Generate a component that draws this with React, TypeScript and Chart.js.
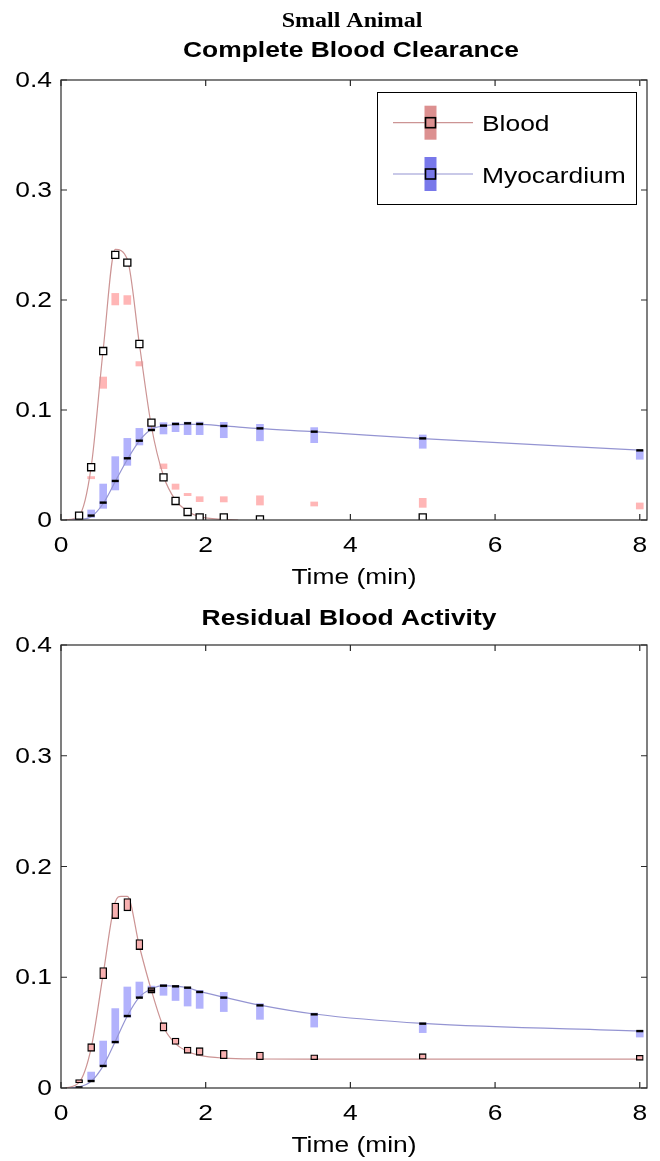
import React, { useEffect, useRef } from 'react';
import { Chart, registerables } from 'chart.js';

Chart.register(...registerables);

// ---------- data ----------
const times = [0.25, 0.4167, 0.5833, 0.75, 0.9167, 1.0833, 1.25, 1.4167, 1.5833, 1.75, 1.9167, 2.25, 2.75, 3.5, 5, 8];

const seriesNames = ['Blood', 'Myocardium'];

// Top panel: Complete Blood Clearance
const topBloodMean = [0.004, 0.048, 0.1536, 0.241, 0.234, 0.16, 0.0885, 0.0388, 0.0173, 0.0073, 0.0024, 0.0024, 0.0005, -0.004, 0.0024, -0.004];
const topBloodLow = [null, 0.0375, 0.1197, 0.1955, 0.196, 0.14, 0.085, 0.0467, 0.0279, 0.0221, 0.0167, 0.0164, 0.0136, 0.0127, 0.0115, 0.010];
const topBloodHigh = [null, 0.0395, 0.13, 0.206, 0.204, 0.144, 0.091, 0.051, 0.0327, 0.0242, 0.0212, 0.0212, 0.022, 0.0164, 0.0197, 0.0155];
const topMyoMean = [0.0005, 0.004, 0.0158, 0.0355, 0.0561, 0.0721, 0.0818, 0.0858, 0.0873, 0.0879, 0.0873, 0.0855, 0.0833, 0.0803, 0.0742, 0.0633];
const topMyoLow = [null, 0.0024, 0.0106, 0.0273, 0.0497, 0.0682, 0.0818, 0.0782, 0.0803, 0.0776, 0.0776, 0.0748, 0.072, 0.0703, 0.0652, 0.0552];
const topMyoHigh = [null, 0.0091, 0.0327, 0.0576, 0.0742, 0.0833, 0.087, 0.0885, 0.0885, 0.089, 0.089, 0.0888, 0.087, 0.084, 0.0773, 0.0636];
const topBloodFitT = [0.06, 0.25, 0.4167, 0.5833, 0.75, 0.9167, 1.0833, 1.25, 1.4167, 1.5833, 1.75, 1.9167, 2.25, 2.45];
const topBloodFitV = [0, 0.004, 0.048, 0.155, 0.246, 0.237, 0.16, 0.085, 0.04, 0.018, 0.008, 0.003, 0.0005, 0];
const topMyoFitT = [0.08, 0.25, 0.4167, 0.5833, 0.75, 0.9167, 1.0833, 1.25, 1.4167, 1.5833, 1.75, 1.9167, 2.25, 2.75, 3.5, 5, 8];
const topMyoFitV = [0, 0.0005, 0.003, 0.015, 0.035, 0.055, 0.072, 0.0824, 0.0856, 0.0867, 0.087, 0.087, 0.0855, 0.083, 0.0803, 0.0739, 0.0636];

// Bottom panel: Residual Blood Activity
const botBloodLow = [0.0045, 0.0331, 0.0987, 0.153, 0.16, 0.125, 0.0857, 0.0514, 0.0394, 0.0313, 0.0295, 0.0265, 0.0256, 0.0256, 0.026, 0.025];
const botBloodHigh = [0.0076, 0.04, 0.1087, 0.167, 0.171, 0.134, 0.0906, 0.059, 0.0451, 0.037, 0.0364, 0.034, 0.0325, 0.03, 0.031, 0.0295];
const botMyoMean = [0.0005, 0.0063, 0.0199, 0.0415, 0.065, 0.0816, 0.088, 0.0924, 0.0918, 0.0906, 0.0867, 0.0816, 0.0746, 0.0665, 0.0581, 0.0514];
const botMyoLow = [null, 0.007, 0.0205, 0.0406, 0.064, 0.0821, 0.086, 0.0837, 0.079, 0.074, 0.0719, 0.069, 0.062, 0.055, 0.05, 0.046];
const botMyoHigh = [null, 0.0144, 0.0424, 0.0717, 0.0912, 0.0957, 0.092, 0.0933, 0.0927, 0.0906, 0.0882, 0.0864, 0.0762, 0.0677, 0.0587, 0.052];
const botBloodFitT = [0.06, 0.25, 0.4167, 0.5833, 0.75, 0.83, 0.9167, 1.0833, 1.25, 1.4167, 1.5833, 1.75, 1.9167, 2.25, 2.75, 3.5, 5, 8];
const botBloodFitV = [0, 0.005, 0.036, 0.103, 0.168, 0.173, 0.173, 0.128, 0.088, 0.055, 0.04, 0.033, 0.0295, 0.027, 0.0262, 0.026, 0.026, 0.026];
const botMyoFitT = [0.08, 0.25, 0.4167, 0.5833, 0.75, 0.9167, 1.0833, 1.25, 1.4167, 1.5833, 1.75, 1.9167, 2.25, 2.75, 3.5, 5, 8];
const botMyoFitV = [0, 0.001, 0.006, 0.02, 0.042, 0.065, 0.082, 0.0895, 0.0925, 0.092, 0.0905, 0.0872, 0.082, 0.0748, 0.0668, 0.0583, 0.0515];

const xTicks = [0, 2, 4, 6, 8];
const xTickLabels = ['0', '2', '4', '6', '8'];
const yTicks = [0, 0.1, 0.2, 0.3, 0.4];
const yTickLabels = ['0', '0.1', '0.2', '0.3', '0.4'];
const xTitle = 'Time (min)';

// ---------- styles ----------
const SANS = '"Liberation Sans", Arial, Helvetica, sans-serif';
const SERIF = '"Liberation Serif", "Times New Roman", serif';
const BLOOD_LINE = '#cc9494';
const MYO_LINE = '#9494d2';
const BLOOD_BAR = '#ffb6b6';
const MYO_BAR = '#b2b2fc';
const BLOOD_LEG = '#dc9090';
const MYO_LEG = '#7878ea';

function rangeData(lo: (number | null)[], hi: (number | null)[]) {
  const out: any[] = [];
  times.forEach((t, i) => {
    if (lo[i] != null && hi[i] != null) out.push({ x: t, y: [lo[i], hi[i]] });
  });
  return out;
}
function pointData(v: (number | null)[]) {
  const out: any[] = [];
  times.forEach((t, i) => {
    if (v[i] != null) out.push({ x: t, y: v[i] });
  });
  return out;
}
function curveData(ts: number[], vs: number[]) {
  return ts.map((t, i) => ({ x: t, y: vs[i] }));
}

function sText(ctx: CanvasRenderingContext2D, text: string, x: number, y: number, font: string, align: CanvasTextAlign, sx = 1.2) {
  ctx.save();
  ctx.font = font;
  ctx.textAlign = align;
  ctx.textBaseline = 'alphabetic';
  ctx.fillStyle = '#000';
  ctx.translate(x, y);
  ctx.scale(sx, 1);
  ctx.fillText(text, 0, 0);
  ctx.restore();
}

function axesPlugin(titles: { text: string; font: string; x: number; y: number }[], withLegend: boolean) {
  return {
    id: 'matlabAxes',
    afterDraw(chart: any) {
      const ctx: CanvasRenderingContext2D = chart.ctx;
      const a = chart.chartArea;
      const xs = chart.scales.x;
      const ys = chart.scales.y;
      ctx.save();
      // frame
      ctx.strokeStyle = '#2a2a2a';
      ctx.lineWidth = 1.2;
      ctx.strokeRect(a.left, a.top, a.right - a.left, a.bottom - a.top);
      const tl = 6;
      ctx.beginPath();
      xTicks.forEach((v) => {
        const px = xs.getPixelForValue(v);
        ctx.moveTo(px, a.bottom);
        ctx.lineTo(px, a.bottom - tl);
        ctx.moveTo(px, a.top);
        ctx.lineTo(px, a.top + tl);
      });
      yTicks.forEach((v) => {
        const py = ys.getPixelForValue(v);
        ctx.moveTo(a.left, py);
        ctx.lineTo(a.left + tl, py);
        ctx.moveTo(a.right, py);
        ctx.lineTo(a.right - tl, py);
      });
      ctx.stroke();
      ctx.restore();

      const tickFont = '22px ' + SANS;
      xTicks.forEach((v, i) => {
        sText(ctx, xTickLabels[i], xs.getPixelForValue(v), a.bottom + 32, tickFont, 'center');
      });
      yTicks.forEach((v, i) => {
        sText(ctx, yTickLabels[i], a.left - 9, ys.getPixelForValue(v) + 7, tickFont, 'right');
      });
      sText(ctx, xTitle, (a.left + a.right) / 2, a.bottom + 63.5, tickFont, 'center');
      titles.forEach((t) => sText(ctx, t.text, t.x, t.y, t.font, 'center'));

      if (withLegend) {
        ctx.save();
        ctx.fillStyle = '#fff';
        ctx.fillRect(377.5, 92.5, 259, 112);
        ctx.strokeStyle = '#000';
        ctx.lineWidth = 1;
        ctx.strokeRect(377.5, 92.5, 259, 112);
        const rows = [
          { y: 122.7, line: BLOOD_LINE, bar: BLOOD_LEG, name: seriesNames[0] },
          { y: 174, line: MYO_LINE, bar: MYO_LEG, name: seriesNames[1] },
        ];
        rows.forEach((r) => {
          ctx.strokeStyle = r.line;
          ctx.lineWidth = 1.2;
          ctx.beginPath();
          ctx.moveTo(393, r.y);
          ctx.lineTo(473, r.y);
          ctx.stroke();
          ctx.fillStyle = r.bar;
          ctx.fillRect(424.5, r.y - 17, 12, 34);
          ctx.strokeStyle = '#000';
          ctx.lineWidth = 1.6;
          ctx.strokeRect(425.5, r.y - 5, 10, 10);
          sText(ctx, r.name, 482, r.y + 8.6, '22px ' + SANS, 'left');
        });
        ctx.restore();
      }
    },
  };
}

function buildConfig(panel: 'top' | 'bottom'): any {
  const barCommon = { type: 'bar', barThickness: 7, grouped: false, borderWidth: 0, borderSkipped: false };
  const lineCommon = { type: 'line', pointRadius: 0, borderWidth: 1.2, fill: false, cubicInterpolationMode: 'monotone' };
  let datasets: any[];
  if (panel === 'top') {
    datasets = [
      { ...barCommon, label: 'Blood range', data: rangeData(topBloodLow, topBloodHigh), backgroundColor: BLOOD_BAR, order: 5 },
      { ...barCommon, label: 'Myocardium range', data: rangeData(topMyoLow, topMyoHigh), backgroundColor: MYO_BAR, order: 5 },
      { ...lineCommon, label: 'Blood fit', data: curveData(topBloodFitT, topBloodFitV), borderColor: BLOOD_LINE, order: 3 },
      { ...lineCommon, label: 'Myocardium fit', data: curveData(topMyoFitT, topMyoFitV), borderColor: MYO_LINE, order: 3 },
      {
        type: 'line', label: 'Myocardium', data: pointData(topMyoMean), showLine: false, pointStyle: 'line',
        pointRadius: 3.5, pointBorderWidth: 2.4, pointBorderColor: '#000', borderColor: '#000', order: 1,
      },
      {
        type: 'line', label: 'Blood', data: pointData(topBloodMean), showLine: false, pointStyle: 'rect',
        pointRadius: 5, pointBorderWidth: 1.3, pointBorderColor: '#000', pointBackgroundColor: '#fff', order: 0, clip: 0,
      },
    ];
  } else {
    datasets = [
      { ...barCommon, label: 'Myocardium range', data: rangeData(botMyoLow, botMyoHigh), backgroundColor: MYO_BAR, order: 5 },
      { ...lineCommon, label: 'Blood fit', data: curveData(botBloodFitT, botBloodFitV), borderColor: BLOOD_LINE, order: 3 },
      { ...lineCommon, label: 'Myocardium fit', data: curveData(botMyoFitT, botMyoFitV), borderColor: MYO_LINE, order: 3 },
      {
        ...barCommon, label: 'Blood', data: rangeData(botBloodLow, botBloodHigh), backgroundColor: '#f8b0b0',
        borderColor: '#000', borderWidth: 1.3, order: 1,
      },
      {
        type: 'line', label: 'Myocardium', data: pointData(botMyoMean), showLine: false, pointStyle: 'line',
        pointRadius: 3.5, pointBorderWidth: 2.4, pointBorderColor: '#000', borderColor: '#000', order: 0,
      },
    ];
  }
  const titles = panel === 'top'
    ? [
        { text: 'Small Animal', font: 'bold 20px ' + SERIF, x: 352, y: 27 },
        { text: 'Complete Blood Clearance', font: 'bold 22px ' + SANS, x: 351, y: 57 },
      ]
    : [{ text: 'Residual Blood Activity', font: 'bold 22px ' + SANS, x: 349, y: 34.5 }];
  const padding = panel === 'top'
    ? { top: 80, left: 61, right: 13, bottom: 70 }
    : { top: 55, left: 61, right: 13, bottom: 73 };
  return {
    type: 'bar',
    data: { datasets },
    options: {
      responsive: false,
      maintainAspectRatio: false,
      devicePixelRatio: 1,
      animation: false,
      events: [],
      layout: { padding },
      plugins: { legend: { display: false }, tooltip: { enabled: false }, title: { display: false } },
      scales: {
        x: { type: 'linear', min: 0, max: 8.1, offset: false, display: false },
        y: { type: 'linear', min: 0, max: 0.4, display: false },
      },
    },
    plugins: [axesPlugin(titles, panel === 'top')],
  };
}

export default function App() {
  const ref1 = useRef<HTMLCanvasElement>(null);
  const ref2 = useRef<HTMLCanvasElement>(null);
  useEffect(() => {
    document.body.style.margin = '0';
    const c1 = new Chart(ref1.current as HTMLCanvasElement, buildConfig('top'));
    const c2 = new Chart(ref2.current as HTMLCanvasElement, buildConfig('bottom'));
    return () => {
      c1.destroy();
      c2.destroy();
    };
  }, []);
  return (
    <div style={{ position: 'absolute', left: 0, top: 0, width: 660, height: 1161, background: '#fff' }}>
      <canvas ref={ref1} width={660} height={590} style={{ position: 'absolute', left: 0, top: 0, width: 660, height: 590 }} />
      <canvas ref={ref2} width={660} height={571} style={{ position: 'absolute', left: 0, top: 590, width: 660, height: 571 }} />
    </div>
  );
}
